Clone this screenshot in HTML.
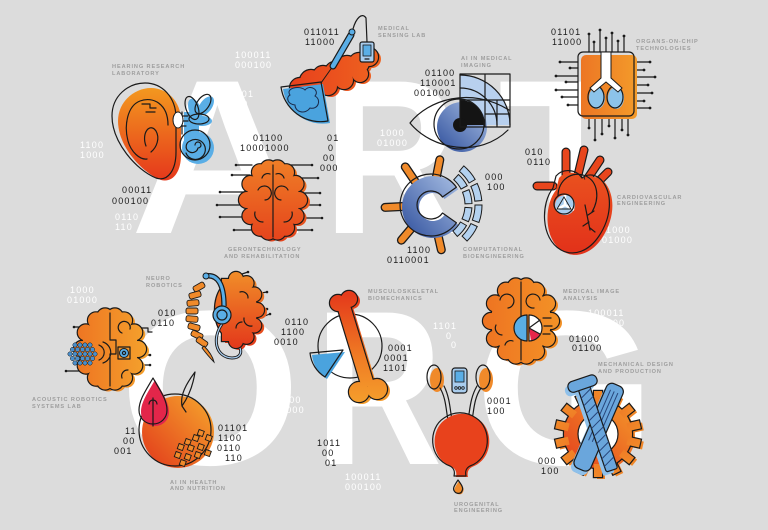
<!DOCTYPE html>
<html><head><meta charset="utf-8"><style>
html,body{margin:0;padding:0;background:#dcdcdc;overflow:hidden}
svg{display:block}
text{font-family:"Liberation Sans",sans-serif}
.b{font-size:9px;letter-spacing:1.2px;fill:#1a1a1a}
.w{font-size:9px;letter-spacing:1.2px;fill:#fff}
.l{font-size:5.6px;letter-spacing:.9px;fill:#9e9e9e;font-weight:bold}
.big{font-weight:bold;font-size:220px;fill:#fff}
.o{fill:none;stroke:#1a1a1a;stroke-width:1.2;stroke-linejoin:round;stroke-linecap:round}
.d{fill:#1a1a1a}
</style></head><body>
<svg xmlns="http://www.w3.org/2000/svg" width="768" height="530" viewBox="0 0 768 530">
<defs>
<linearGradient id="gEar" x1="0" y1="88" x2="0" y2="182" gradientUnits="userSpaceOnUse"><stop offset="0" stop-color="#f3981f"/><stop offset="1" stop-color="#e5361b"/></linearGradient>
<linearGradient id="gCloud" x1="295" y1="0" x2="378" y2="0" gradientUnits="userSpaceOnUse"><stop offset="0" stop-color="#e8421c"/><stop offset="1" stop-color="#ee6320"/></linearGradient>
<linearGradient id="gGer" x1="0" y1="162" x2="0" y2="240" gradientUnits="userSpaceOnUse"><stop offset="0" stop-color="#ef7d26"/><stop offset="1" stop-color="#e5441c"/></linearGradient>
<linearGradient id="gChip" x1="578" y1="0" x2="636" y2="0" gradientUnits="userSpaceOnUse"><stop offset="0" stop-color="#ec7424"/><stop offset="1" stop-color="#f39a2a"/></linearGradient>
<linearGradient id="gHeart" x1="0" y1="150" x2="0" y2="252" gradientUnits="userSpaceOnUse"><stop offset="0" stop-color="#ec5a20"/><stop offset="1" stop-color="#e2321a"/></linearGradient>
<linearGradient id="gBlue" x1="0" y1="1" x2="1" y2="0"><stop offset="0" stop-color="#2f4f9c"/><stop offset="1" stop-color="#a8bfe4"/></linearGradient>
<linearGradient id="gNeu" x1="0" y1="275" x2="0" y2="348" gradientUnits="userSpaceOnUse"><stop offset="0" stop-color="#f08a28"/><stop offset="1" stop-color="#e3381b"/></linearGradient>
<linearGradient id="gAc" x1="75" y1="0" x2="145" y2="0" gradientUnits="userSpaceOnUse"><stop offset="0" stop-color="#ee7422"/><stop offset="1" stop-color="#f4a02c"/></linearGradient>
<linearGradient id="gApple" x1="145" y1="460" x2="210" y2="400" gradientUnits="userSpaceOnUse"><stop offset="0" stop-color="#e3401c"/><stop offset="1" stop-color="#f5a22c"/></linearGradient>
<linearGradient id="gBone" x1="0" y1="295" x2="0" y2="405" gradientUnits="userSpaceOnUse"><stop offset="0" stop-color="#e43b1b"/><stop offset=".55" stop-color="#ef7a24"/><stop offset="1" stop-color="#f5a02c"/></linearGradient>
<linearGradient id="gMia" x1="485" y1="0" x2="560" y2="0" gradientUnits="userSpaceOnUse"><stop offset="0" stop-color="#ee7422"/><stop offset="1" stop-color="#f39226"/></linearGradient>
<linearGradient id="gGear" x1="560" y1="475" x2="640" y2="395" gradientUnits="userSpaceOnUse"><stop offset="0" stop-color="#e3381b"/><stop offset="1" stop-color="#f5a02c"/></linearGradient>

<g id="cloud"><circle cx="300" cy="88" r="10"/><circle cx="311" cy="81" r="11"/><circle cx="323" cy="76" r="10"/><circle cx="335" cy="72" r="10"/><circle cx="347" cy="67" r="11"/><circle cx="359" cy="63" r="10"/><circle cx="369" cy="57" r="9"/><circle cx="312" cy="93" r="8"/><circle cx="328" cy="86" r="9"/><circle cx="344" cy="80" r="9"/><circle cx="360" cy="74" r="8"/></g>
<g id="brGer"><ellipse cx="273" cy="200" rx="26" ry="32"/>
<circle cx="299" cy="200" r="8"/><circle cx="295.5" cy="216" r="8"/><circle cx="286" cy="227.7" r="8"/><circle cx="277.5" cy="231.5" r="8"/><circle cx="268.5" cy="231.5" r="8"/><circle cx="260" cy="227.7" r="8"/><circle cx="250.5" cy="216" r="8"/><circle cx="247" cy="200" r="8"/><circle cx="250.5" cy="184" r="8"/><circle cx="260" cy="172.3" r="8"/><circle cx="268.5" cy="168.5" r="8"/><circle cx="277.5" cy="168.5" r="8"/><circle cx="286" cy="172.3" r="8"/><circle cx="295.5" cy="184" r="8"/></g>
<g id="brAc"><ellipse cx="110" cy="349" rx="28" ry="33"/>
<circle cx="138" cy="349" r="8"/><circle cx="134.2" cy="365.5" r="8"/><circle cx="124" cy="377.6" r="8"/><circle cx="114.9" cy="381.5" r="8"/><circle cx="105.1" cy="381.5" r="8"/><circle cx="96" cy="377.6" r="8"/><circle cx="85.8" cy="365.5" r="8"/><circle cx="82" cy="349" r="8"/><circle cx="85.8" cy="332.5" r="8"/><circle cx="96" cy="320.4" r="8"/><circle cx="105.1" cy="316.5" r="8"/><circle cx="114.9" cy="316.5" r="8"/><circle cx="124" cy="320.4" r="8"/><circle cx="134.2" cy="332.5" r="8"/></g>
<g id="brMia"><ellipse cx="521" cy="321" rx="30" ry="35"/>
<circle cx="551" cy="321" r="8"/><circle cx="547" cy="338.5" r="8"/><circle cx="536" cy="351.3" r="8"/><circle cx="526.2" cy="355.5" r="8"/><circle cx="515.8" cy="355.5" r="8"/><circle cx="506" cy="351.3" r="8"/><circle cx="495" cy="338.5" r="8"/><circle cx="491" cy="321" r="8"/><circle cx="495" cy="303.5" r="8"/><circle cx="506" cy="290.7" r="8"/><circle cx="515.8" cy="286.5" r="8"/><circle cx="526.2" cy="286.5" r="8"/><circle cx="536" cy="290.7" r="8"/><circle cx="547" cy="303.5" r="8"/></g>
<g id="brNeu"><ellipse cx="236" cy="310" rx="21" ry="31"/><rect x="222" y="279" width="14" height="62"/>
<circle cx="236" cy="279" r="7"/><circle cx="246.5" cy="283.2" r="7"/><circle cx="254.2" cy="294.5" r="7"/><circle cx="257" cy="310" r="7"/><circle cx="254.2" cy="325.5" r="7"/><circle cx="246.5" cy="336.8" r="7"/><circle cx="236" cy="341" r="7"/></g>
<g id="bone"><circle cx="338" cy="303" r="8"/><circle cx="349" cy="299" r="8"/><path d="M337 306 L349 302 L374 384 L362 388 Z"/><circle cx="359" cy="392" r="10"/><circle cx="377" cy="389" r="10"/></g>
<g id="gear"><circle cx="598" cy="434" r="34"/>
<rect x="594" y="391" width="8" height="13"/>
<rect x="594" y="391" width="8" height="13" transform="rotate(25.71 598 434)"/>
<rect x="594" y="391" width="8" height="13" transform="rotate(51.43 598 434)"/>
<rect x="594" y="391" width="8" height="13" transform="rotate(77.14 598 434)"/>
<rect x="594" y="391" width="8" height="13" transform="rotate(102.86 598 434)"/>
<rect x="594" y="391" width="8" height="13" transform="rotate(128.57 598 434)"/>
<rect x="594" y="391" width="8" height="13" transform="rotate(154.29 598 434)"/>
<rect x="594" y="391" width="8" height="13" transform="rotate(180 598 434)"/>
<rect x="594" y="391" width="8" height="13" transform="rotate(205.71 598 434)"/>
<rect x="594" y="391" width="8" height="13" transform="rotate(231.43 598 434)"/>
<rect x="594" y="391" width="8" height="13" transform="rotate(257.14 598 434)"/>
<rect x="594" y="391" width="8" height="13" transform="rotate(282.86 598 434)"/>
<rect x="594" y="391" width="8" height="13" transform="rotate(308.57 598 434)"/>
<rect x="594" y="391" width="8" height="13" transform="rotate(334.29 598 434)"/>
</g>
<path id="seg1" d="M33.48 -5.90 L40.38 -7.12 A41 41 0 0 1 40.38 7.12 L33.48 5.90 A34 34 0 0 0 33.48 -5.90 Z"/>
<path id="seg2" d="M43.33 -7.64 L50.23 -8.86 A51 51 0 0 1 50.23 8.86 L43.33 7.64 A44 44 0 0 0 43.33 -7.64 Z"/>
</defs>

<rect width="768" height="530" fill="#dcdcdc"/>

<!-- big letters -->
<text class="big" transform="translate(130 233) scale(1.1 1)" x="0" y="0">A</text>
<text class="big" transform="translate(337 233) scale(.85 1)" x="-16" y="0">R</text>
<text class="big" x="498" y="233">T</text>
<text class="big" transform="translate(130 464) scale(1.06 1)" x="-10" y="0">O</text>
<text class="big" transform="translate(328 464) scale(.8 1)" x="-16" y="0">R</text>
<text class="big" transform="translate(485 464) scale(1.06 1)" x="-10" y="0">G</text>

<!-- white binary -->
<text class="w" x="235" y="58">100011</text><text class="w" x="235" y="68">000100</text>
<text class="w" x="230" y="97">1101</text><text class="w" x="236" y="107">00</text><text class="w" x="238" y="117">00</text><text class="w" x="240" y="127">00</text>
<text class="w" x="80" y="148">1100</text><text class="w" x="80" y="158">1000</text>
<text class="w" x="115" y="220">0110</text><text class="w" x="115" y="230">110</text>
<text class="w" x="380" y="136">1000</text><text class="w" x="377" y="146">01000</text>
<text class="w" x="606" y="233">1000</text><text class="w" x="602" y="243">01000</text>
<text class="w" x="70" y="293">1000</text><text class="w" x="67" y="303">01000</text>
<text class="w" x="283" y="403">000</text><text class="w" x="280" y="413">1000</text>
<text class="w" x="345" y="480">100011</text><text class="w" x="345" y="490">000100</text>
<text class="w" x="433" y="329">1101</text><text class="w" x="446" y="339">0</text><text class="w" x="451" y="348">0</text>
<text class="w" x="588" y="316">100011</text><text class="w" x="588" y="326">000100</text>

<!-- EAR -->
<path d="M151 88 C135 88 118 101 118 121 C118 146 141 172 161 180 C173 183 181 172 181 155 L181 121 C181 101 167 88 151 88Z" fill="url(#gEar)"/>
<path class="o" d="M145 83 C128 83 112 96 112 116 C112 142 136 170 156 178 C168 182 176 170 176 152 L176 118 C176 97 162 83 145 83Z"/>
<path class="o" d="M168 125 C168 104 153 96 140 101 C127 106 124 126 128 141 C131 152 140 160 147 159"/>
<path class="o" d="M146 146 C141 133 150 122 156 131 C160 138 157 147 151 152"/>
<path class="o" d="M142 104 h8 v4 h6 M146 112 h9"/>
<g fill="#5aaee6">
<ellipse cx="195" cy="110" rx="6" ry="12" transform="rotate(-20 195 110)"/>
<ellipse cx="206" cy="106" rx="6" ry="11" transform="rotate(35 206 106)"/>
<ellipse cx="202" cy="121" rx="10" ry="5"/>
<circle cx="198" cy="148" r="16"/>
<rect x="184" y="112" width="15" height="30"/>
</g>
<g class="o">
<ellipse cx="192" cy="108" rx="6" ry="12" transform="rotate(-20 192 108)"/>
<ellipse cx="203" cy="104" rx="6" ry="11" transform="rotate(35 203 104)"/>
<ellipse cx="199" cy="119" rx="10" ry="5"/>
<path d="M182 112 V134"/>
<circle cx="195" cy="145" r="15"/>
<path d="M195 145 A3 3 0 1 1 198 148 A6 6 0 1 1 190 141 A10 10 0 1 1 186 153"/>
<path d="M178 116 h10 M178 121 h10 M178 126 h8"/>
</g>
<ellipse cx="178" cy="120" rx="5" ry="8" fill="#fff" stroke="#1a1a1a" stroke-width="1"/>

<!-- MEDICAL SENSING -->
<use href="#cloud" fill="url(#gCloud)" transform="translate(3 2)"/>
<use href="#cloud" fill="#1a1a1a" stroke="#1a1a1a" stroke-width="2.4"/>
<use href="#cloud" fill="url(#gCloud)"/>
<path d="M323 84 L283 89 A40 40 0 0 0 330 123 Z" fill="#4aa3de"/>
<path class="o" d="M321 82 L281 87 A40 40 0 0 0 328 121 Z"/>
<path d="M290 95 C285 88 300 85 305 90 C310 84 320 90 315 96 C322 100 318 110 310 108 C305 115 295 112 295 105 C287 104 286 97 290 95Z" fill="none" stroke="#1a2a4a" stroke-width="1"/>
<path d="M321 83 L333 66" stroke="#1a1a1a" stroke-width="1"/>
<path d="M333 66 L351 35" stroke="#1a1a1a" stroke-width="7" stroke-linecap="round"/>
<path d="M333 66 L351 35" stroke="#5aaee6" stroke-width="4.6" stroke-linecap="round"/>
<circle cx="352" cy="32" r="3" fill="#5aaee6" stroke="#1a1a1a" stroke-width="1"/>
<path class="o" d="M353 29 C356 18 362 12 366 18 L367 42"/>
<rect x="360" y="42" width="14" height="20" rx="2" fill="#a9cdee" stroke="#1a1a1a" stroke-width="1.2"/>
<rect x="363" y="45" width="8" height="11" fill="#5aaee6" stroke="#1a1a1a" stroke-width=".8"/>
<path class="o" d="M365 59 h4"/>

<!-- EYE -->
<path d="M460 125 L460 75 A50 50 0 0 1 510 125 Z" fill="#b8d0ee"/>
<circle cx="462" cy="127" r="25" fill="url(#gBlue)"/>
<path d="M460 125 L460 100 A25 25 0 0 1 485 125 Z" fill="#141414"/>
<circle cx="460" cy="125" r="7" fill="#141414"/>
<path class="o" d="M410 123 C428 100 470 86 509 110 M410 123 C432 150 480 158 508 130"/>
<circle class="o" cx="459" cy="124" r="25"/>
<path class="o" d="M460 74 H510 V127 H460 Z M485 74 V127 M460 100 H510 M497 100 V127 M485 114 H510"/>
<path class="o" d="M460 88 A37 37 0 0 1 497 125 M460 75 A50 50 0 0 1 510 125"/>

<!-- CHIP -->
<g class="o">
<path d="M589 52V34 M594 52V42 M600 52V30 M606 52V38 M612 52V33 M618 52V41 M624 52V36"/>
<path d="M578 62H560 M578 68H570 M578 76H556 M578 82H566 M578 90H556 M578 97H562 M578 105H568"/>
<path d="M634 62H650 M634 70H644 M634 77H655 M634 85H648 M634 93H652 M634 101H644 M634 108H650"/>
<path d="M589 116V128 M595 116V140 M602 116V134 M609 116V126 M615 116V138 M622 116V130 M628 116V135"/>
</g>
<g class="d">
<circle cx="589" cy="34" r="1.4"/><circle cx="594" cy="42" r="1.4"/><circle cx="600" cy="30" r="1.4"/><circle cx="606" cy="38" r="1.4"/><circle cx="612" cy="33" r="1.4"/><circle cx="618" cy="41" r="1.4"/><circle cx="624" cy="36" r="1.4"/>
<circle cx="560" cy="62" r="1.4"/><circle cx="570" cy="68" r="1.4"/><circle cx="556" cy="76" r="1.4"/><circle cx="566" cy="82" r="1.4"/><circle cx="556" cy="90" r="1.4"/><circle cx="562" cy="97" r="1.4"/><circle cx="568" cy="105" r="1.4"/>
<circle cx="650" cy="62" r="1.4"/><circle cx="644" cy="70" r="1.4"/><circle cx="655" cy="77" r="1.4"/><circle cx="648" cy="85" r="1.4"/><circle cx="652" cy="93" r="1.4"/><circle cx="644" cy="101" r="1.4"/><circle cx="650" cy="108" r="1.4"/>
<circle cx="589" cy="128" r="1.4"/><circle cx="595" cy="140" r="1.4"/><circle cx="602" cy="134" r="1.4"/><circle cx="609" cy="126" r="1.4"/><circle cx="615" cy="138" r="1.4"/><circle cx="622" cy="130" r="1.4"/><circle cx="628" cy="135" r="1.4"/>
</g>
<rect x="581" y="55" width="56" height="64" rx="5" fill="url(#gChip)"/>
<rect class="o" x="578" y="52" width="56" height="64" rx="5"/>
<ellipse cx="597" cy="98" rx="8" ry="11" fill="#8cc3ea"/>
<ellipse cx="616" cy="98" rx="8" ry="11" fill="#8cc3ea"/>
<ellipse class="o" cx="596" cy="97" rx="8" ry="11"/>
<ellipse class="o" cx="615" cy="97" rx="8" ry="11"/>
<path d="M601 52 H611 V78 L622 88 L618 92 L606 82 L594 92 L590 88 L601 78 Z" fill="#fff" stroke="#1a1a1a" stroke-width="1"/>

<!-- GERONTECHNOLOGY BRAIN -->
<g class="o">
<path d="M236 165H252 M232 175H250 M220 192H245 M217 205H245 M220 217H245 M234 230H252"/>
<path d="M290 165H312 M295 178H318 M300 193H320 M300 205H320 M300 218H322 M290 230H312"/>
</g>
<g class="d"><circle cx="236" cy="165" r="1.3"/><circle cx="232" cy="175" r="1.3"/><circle cx="220" cy="192" r="1.3"/><circle cx="217" cy="205" r="1.3"/><circle cx="220" cy="217" r="1.3"/><circle cx="234" cy="230" r="1.3"/><circle cx="312" cy="165" r="1.3"/><circle cx="318" cy="178" r="1.3"/><circle cx="320" cy="193" r="1.3"/><circle cx="320" cy="205" r="1.3"/><circle cx="322" cy="218" r="1.3"/><circle cx="312" cy="230" r="1.3"/></g>
<use href="#brGer" fill="url(#gGer)" transform="translate(3 2)"/>
<use href="#brGer" fill="#1a1a1a" stroke="#1a1a1a" stroke-width="2.4"/>
<use href="#brGer" fill="url(#gGer)"/>
<path class="o" d="M273 165 V237 M258 190 A7 7 0 1 1 265 200 M288 190 A7 7 0 1 0 281 200 M255 212 a8 8 0 0 0 8 10 M292 212 a8 8 0 0 1 -8 10 M262 178 a6 6 0 0 1 8 -4 M284 178 a6 6 0 0 0 -8 -4"/>

<!-- C RING -->
<g stroke-linecap="round">
<path d="M436.3 177.5 L439.8 159.8 M415.3 181.8 L405.3 166.9 M403 206.5 L385.1 207.4 M413 226.4 L401.4 240.2 M437.3 232.3 L441.3 249.8" stroke="#1a1a1a" stroke-width="9"/>
<path d="M436.3 177.5 L439.8 159.8 M415.3 181.8 L405.3 166.9 M403 206.5 L385.1 207.4 M413 226.4 L401.4 240.2 M437.3 232.3 L441.3 249.8" stroke="#f08a2a" stroke-width="6.4"/>
</g>
<path d="M458.4 189.2 A31 31 0 1 0 458.4 224.8 L444.5 215 A14 14 0 1 1 444.5 199 Z" fill="url(#gBlue)"/>
<path class="o" d="M456.4 187.2 A31 31 0 1 0 456.4 222.8 L442.5 213 A14 14 0 1 1 442.5 197 Z"/>
<g fill="#b3d1ef" stroke="#1a1a1a" stroke-width="1">
<use href="#seg1" transform="translate(431 205) rotate(-38)"/>
<use href="#seg1" transform="translate(431 205) rotate(-12)"/>
<use href="#seg1" transform="translate(431 205) rotate(14)"/>
<use href="#seg1" transform="translate(431 205) rotate(40)"/>
<use href="#seg2" transform="translate(431 205) rotate(-40)"/>
<use href="#seg2" transform="translate(431 205) rotate(-15)"/>
<use href="#seg2" transform="translate(431 205) rotate(10)"/>
<use href="#seg2" transform="translate(431 205) rotate(35)"/>
</g>

<!-- HEART -->
<g stroke-linecap="round">
<path d="M566 178 V152 M578 175 L584 150 M588 178 L600 160 M594 186 L608 172 M553 186 H537" stroke="#1a1a1a" stroke-width="9"/>
<path d="M566 178 V152 M578 175 L584 150 M588 178 L600 160 M594 186 L608 172 M553 186 H537" stroke="#e8461c" stroke-width="6.6"/>
</g>
<path d="M556 190 C544 205 543 240 564 252 C577 259 592 253 602 238 C614 220 616 198 606 184 C600 176 591 175 585 180 C579 171 566 170 559 178 Z" fill="url(#gHeart)"/>
<path class="o" d="M553 188 C541 203 540 238 561 250 C574 257 589 251 599 236 C611 218 613 196 603 182 C597 174 588 173 582 178 C576 169 563 168 556 176 Z"/>
<path class="o" d="M558 196 C558 180 572 170 586 176 C598 182 600 198 592 212"/>
<circle cx="565" cy="205" r="10" fill="#a9cdee"/>
<path d="M565 205 L565 195 M565 205 L556 210 M565 205 L574 210" stroke="#fff" stroke-width="2.5"/>
<circle class="o" cx="564" cy="204" r="10"/>
<path d="M564 197 L571 209 L557 209 Z" fill="none" stroke="#1a1a1a" stroke-width=".9"/>
<path class="o" d="M585 205 L590 230 M588 215 L594 211 M589 222 L583 226 M590 228 L595 232" stroke-width="1"/>

<!-- NEURO ROBOTICS -->
<g fill="#f08a2a" stroke="#1a1a1a" stroke-width=".9">
<rect x="193" y="284" width="12" height="6" rx="2" transform="rotate(-30 199 287)"/>
<rect x="189" y="292" width="12" height="6" rx="2" transform="rotate(-15 195 295)"/>
<rect x="187" y="300" width="12" height="6" rx="2" transform="rotate(-5 193 303)"/>
<rect x="186" y="308" width="12" height="6" rx="2"/>
<rect x="186" y="316" width="12" height="6" rx="2" transform="rotate(5 192 319)"/>
<rect x="188" y="324" width="12" height="6" rx="2" transform="rotate(15 194 327)"/>
<rect x="191" y="332" width="12" height="6" rx="2" transform="rotate(25 197 335)"/>
<rect x="196" y="339" width="12" height="6" rx="2" transform="rotate(35 202 342)"/>
<path d="M204 346 C210 352 213 358 214 362 C210 358 205 352 202 348 Z"/>
</g>
<g class="o"><path d="M233 277 L248 272 M242 286 L250 286 M250 295 L267 292 M258 309 L267 309 M262 317 L270 314"/></g>
<g class="d"><circle cx="248" cy="272" r="1.3"/><circle cx="250" cy="286" r="1.3"/><circle cx="267" cy="292" r="1.3"/><circle cx="267" cy="309" r="1.3"/><circle cx="270" cy="314" r="1.3"/></g>
<use href="#brNeu" fill="url(#gNeu)" transform="translate(3 2)"/>
<use href="#brNeu" fill="#1a1a1a" stroke="#1a1a1a" stroke-width="2.4"/>
<use href="#brNeu" fill="url(#gNeu)"/>
<path class="o" d="M240 292 a6 6 0 0 1 8 6 M244 318 a7 7 0 0 0 8 8 M236 328 a6 6 0 0 1 6 -6"/>
<path d="M206 276 C218 274 224 285 224 306" fill="none" stroke="#1a1a1a" stroke-width="5.4"/>
<path d="M206 276 C218 274 224 285 224 306" fill="none" stroke="#5aaee6" stroke-width="3"/>
<circle cx="206" cy="276" r="3" fill="#5aaee6" stroke="#1a1a1a" stroke-width="1"/>
<path d="M222 324 C212 338 215 357 232 358 C240 358 242 353 240 348" fill="none" stroke="#1a1a1a" stroke-width="3"/>
<path d="M222 324 C212 338 215 357 232 358 C240 358 242 353 240 348" fill="none" stroke="#a9cdee" stroke-width="1.2"/>
<circle cx="222" cy="315" r="9" fill="#5aaee6" stroke="#1a1a1a" stroke-width="1.2"/>
<circle class="o" cx="222" cy="315" r="5"/>

<!-- ACOUSTIC ROBOTICS -->
<g class="o"><path d="M74 327 H84 M66 371 H80 M138 328 H148 V332 H152 M138 355 H150 M138 365 H150"/></g>
<g class="d"><circle cx="74" cy="327" r="1.3"/><circle cx="66" cy="371" r="1.3"/><circle cx="150" cy="355" r="1.3"/><circle cx="150" cy="365" r="1.3"/></g>
<use href="#brAc" fill="url(#gAc)" transform="translate(3 2)"/>
<use href="#brAc" fill="#1a1a1a" stroke="#1a1a1a" stroke-width="2.4"/>
<use href="#brAc" fill="url(#gAc)"/>
<path class="o" d="M110 313 V340 H116 V354 H110 V386 M122 333 a6 6 0 1 1 8 -4 M122 378 a6 6 0 0 1 6 -8 M99 345 A8 8 0 0 1 99 360 M103 342 A11 11 0 0 1 103 363"/>
<rect class="o" x="118" y="347" width="12" height="12"/>
<circle cx="124" cy="353" r="4.5" fill="#5aaee6" stroke="#1a1a1a" stroke-width="1"/>
<circle class="o" cx="124" cy="353" r="1.6" stroke-width=".8"/>
<g fill="#4a8fcc" stroke="#1a1a1a" stroke-width=".5">
<circle cx="75" cy="345" r="2.2"/><circle cx="80" cy="345" r="2.2"/><circle cx="85" cy="345" r="2.2"/><circle cx="90" cy="345" r="2.2"/>
<circle cx="72.5" cy="349.5" r="2.2"/><circle cx="77.5" cy="349.5" r="2.2"/><circle cx="82.5" cy="349.5" r="2.2"/><circle cx="87.5" cy="349.5" r="2.2"/><circle cx="92.5" cy="349.5" r="2.2"/>
<circle cx="70" cy="354" r="2.2"/><circle cx="75" cy="354" r="2.2"/><circle cx="80" cy="354" r="2.2"/><circle cx="85" cy="354" r="2.2"/><circle cx="90" cy="354" r="2.2"/><circle cx="95" cy="354" r="2.2"/>
<circle cx="72.5" cy="358.5" r="2.2"/><circle cx="77.5" cy="358.5" r="2.2"/><circle cx="82.5" cy="358.5" r="2.2"/><circle cx="87.5" cy="358.5" r="2.2"/><circle cx="92.5" cy="358.5" r="2.2"/>
<circle cx="75" cy="363" r="2.2"/><circle cx="80" cy="363" r="2.2"/><circle cx="85" cy="363" r="2.2"/><circle cx="90" cy="363" r="2.2"/>
</g>

<!-- AI HEALTH NUTRITION -->
<circle cx="178" cy="432" r="36" fill="url(#gApple)"/>
<circle class="o" cx="175" cy="430" r="36"/>
<path class="o" d="M182 406 C180 395 186 384 195 372 C193 386 189 396 182 406 Z M182 406 L186 412"/>
<path d="M155 380 C148 392 141 402 141 412 C141 420 147 426 155 426 C163 426 169 420 169 412 C169 402 162 392 155 380 Z" fill="#e3264a"/>
<path class="o" d="M153 378 C146 390 139 400 139 410 C139 418 145 424 153 424 C161 424 167 418 167 410 C167 400 160 390 153 378 Z"/>
<path class="o" d="M153 398 V426 M149 404 A4 4 0 0 1 157 404"/>
<g fill="#f08a2a" stroke="#1a1a1a" stroke-width=".9">
<rect x="198" y="430" width="5.5" height="5.5" transform="rotate(20 200 433)"/>
<rect x="206" y="435" width="5.5" height="5.5" transform="rotate(20 208 438)"/>
<rect x="185" y="439" width="5.5" height="5.5" transform="rotate(20 187 442)"/>
<rect x="193" y="435" width="5.5" height="5.5" transform="rotate(20 195 438)"/>
<rect x="178" y="444" width="5.5" height="5.5" transform="rotate(20 180 447)"/>
<rect x="188" y="445" width="5.5" height="5.5" transform="rotate(20 190 448)"/>
<rect x="198" y="444" width="5.5" height="5.5" transform="rotate(20 200 447)"/>
<rect x="175" y="452" width="5.5" height="5.5" transform="rotate(20 177 455)"/>
<rect x="185" y="454" width="5.5" height="5.5" transform="rotate(20 187 457)"/>
<rect x="195" y="452" width="5.5" height="5.5" transform="rotate(20 197 455)"/>
<rect x="205" y="450" width="5.5" height="5.5" transform="rotate(20 207 453)"/>
<rect x="180" y="460" width="5.5" height="5.5" transform="rotate(20 182 463)"/>
</g>

<!-- MUSCULOSKELETAL -->
<circle class="o" cx="350" cy="346" r="32"/>
<use href="#bone" fill="url(#gBone)" transform="translate(3 2)"/>
<use href="#bone" fill="#1a1a1a" stroke="#1a1a1a" stroke-width="2.4"/>
<use href="#bone" fill="url(#gBone)"/>
<path d="M345 352 L312 355 A32 32 0 0 0 327 379 Z" fill="#4aa3de"/>
<path class="o" d="M343 350 L310 353 A32 32 0 0 0 325 377 Z"/>

<!-- MEDICAL IMAGE ANALYSIS -->
<use href="#brMia" fill="url(#gMia)" transform="translate(3 2)"/>
<use href="#brMia" fill="#1a1a1a" stroke="#1a1a1a" stroke-width="2.4"/>
<use href="#brMia" fill="url(#gMia)"/>
<path class="o" d="M521 282 V360 M500 300 a7 7 0 1 1 8 8 M496 325 a7 7 0 0 0 6 10 M505 345 a6 6 0 0 1 8 -4 M540 300 a7 7 0 1 0 -6 8"/>
<path d="M527 315 A13 13 0 0 0 527 341 Z" fill="#5aaee6"/>
<path d="M529 315 A13 13 0 0 1 529 341 Z" fill="#fff"/>
<path d="M529 328 L540 334 A13 13 0 0 1 531 341 Z" fill="#e8264a"/>
<path class="o" d="M527 315 A13 13 0 0 0 527 341 Z M529 315 A13 13 0 0 1 529 341 Z M529 328 L540 320 M529 328 L540 334 M543 318 H551 M544 326 H552 M543 334 H550"/>

<!-- UROGENITAL -->
<ellipse cx="437" cy="380" rx="7" ry="12" fill="#f08a2a"/>
<ellipse cx="486" cy="380" rx="7" ry="12" fill="#f08a2a"/>
<ellipse class="o" cx="434" cy="377" rx="7" ry="12"/>
<ellipse class="o" cx="483" cy="377" rx="7" ry="12"/>
<path class="o" d="M440 388 C446 398 446 410 448 420 M444 386 C450 398 450 410 452 420 M481 388 C474 398 474 410 472 420 M477 386 C470 398 470 410 468 420"/>
<rect x="452" y="368" width="15" height="25" rx="3" fill="#a9cdee" stroke="#1a1a1a" stroke-width="1.2"/>
<rect x="455" y="371" width="9" height="11" fill="#5aaee6" stroke="#1a1a1a" stroke-width=".8"/>
<g fill="none" stroke="#1a1a1a" stroke-width=".8"><circle cx="456" cy="388" r="1.3"/><circle cx="459.5" cy="388" r="1.3"/><circle cx="463" cy="388" r="1.3"/></g>
<path d="M446 419 C430 429 430 459 452 467 C456 469 457 473 456 477 L468 477 C467 473 468 469 472 467 C494 459 494 429 478 419 C468 412 456 412 446 419 Z" fill="#e8421c"/>
<path class="o" d="M444 418 C428 428 428 458 450 466 C454 468 455 472 454 476 L466 476 C465 472 466 468 470 466 C492 458 492 428 476 418 C466 411 454 411 444 418 Z"/>
<path d="M459 481 C455 487 453 490 456 493 C458 495 462 495 463 492 C465 489 462 485 459 481Z" fill="#f08a2a"/>
<path class="o" d="M458 480 C454 486 452 489 455 492 C457 494 461 494 462 491 C464 488 461 484 458 480Z"/>

<!-- GEAR & TOOLS -->
<use href="#gear" fill="url(#gGear)" transform="translate(3 2)"/>
<use href="#gear" fill="#1a1a1a" stroke="#1a1a1a" stroke-width="2.4"/>
<use href="#gear" fill="url(#gGear)"/>
<circle cx="598" cy="434" r="20" fill="#fff" stroke="#1a1a1a" stroke-width="1.2"/>
<g transform="translate(580 389) rotate(-18.8)" fill="#8ec0ea">
<rect x="-6" y="0" width="12" height="90" rx="2"/><rect x="-15" y="-7" width="30" height="11" rx="5"/>
</g>
<g transform="translate(614 389) rotate(23.5)" fill="#8ec0ea"><rect x="-9" y="0" width="18" height="92" rx="6"/></g>
<g transform="translate(617 385) rotate(23.5)">
<rect x="-9" y="0" width="18" height="92" rx="6" fill="#6aa6dc" stroke="#1a1a1a" stroke-width="1.2"/>
<path d="M-4 7 V62 M0 7 V62 M4 7 V62" stroke="#27457a" stroke-width="1"/>
</g>
<g transform="translate(583 385) rotate(-18.8)">
<rect x="-6" y="0" width="12" height="90" rx="2" fill="#6aa6dc" stroke="#1a1a1a" stroke-width="1.2"/>
<path d="M-6 12 L6 6 M-6 20 L6 14 M-6 28 L6 22 M-6 36 L6 30 M-6 44 L6 38 M-6 52 L6 46 M-6 60 L6 54 M-6 68 L6 62 M-6 76 L6 70 M-6 84 L6 78" stroke="#27457a" stroke-width="1"/>
<rect x="-15" y="-7" width="30" height="11" rx="5" fill="#6aa6dc" stroke="#1a1a1a" stroke-width="1.2"/>
</g>

<!-- black binary -->
<text class="b" x="304" y="35">011011</text><text class="b" x="305" y="45">11000</text>
<text class="b" x="551" y="35">01101</text><text class="b" x="552" y="45">11000</text>
<text class="b" x="425" y="76">01100</text><text class="b" x="420" y="86">110001</text><text class="b" x="414" y="96">001000</text>
<text class="b" x="253" y="141">01100</text><text class="b" x="240" y="151">10001000</text>
<text class="b" x="327" y="141">01</text><text class="b" x="328" y="151">0</text><text class="b" x="323" y="161">00</text><text class="b" x="320" y="171">000</text>
<text class="b" x="122" y="193">00011</text><text class="b" x="112" y="204">000100</text>
<text class="b" x="525" y="155">010</text><text class="b" x="527" y="165">0110</text>
<text class="b" x="485" y="180">000</text><text class="b" x="487" y="190">100</text>
<text class="b" x="407" y="253">1100</text><text class="b" x="387" y="263">0110001</text>
<text class="b" x="158" y="316">010</text><text class="b" x="151" y="326">0110</text>
<text class="b" x="285" y="325">0110</text><text class="b" x="281" y="335">1100</text><text class="b" x="274" y="345">0010</text>
<text class="b" x="388" y="351">0001</text><text class="b" x="384" y="361">0001</text><text class="b" x="383" y="371">1101</text>
<text class="b" x="569" y="342">01000</text><text class="b" x="572" y="351">01100</text>
<text class="b" x="487" y="404">0001</text><text class="b" x="487" y="414">100</text>
<text class="b" x="125" y="434">11</text><text class="b" x="123" y="444">00</text><text class="b" x="114" y="454">001</text>
<text class="b" x="218" y="431">01101</text><text class="b" x="218" y="441">1100</text><text class="b" x="217" y="451">0110</text><text class="b" x="225" y="461">110</text>
<text class="b" x="317" y="446">1011</text><text class="b" x="322" y="456">00</text><text class="b" x="325" y="466">01</text>
<text class="b" x="538" y="464">000</text><text class="b" x="541" y="474">100</text>

<!-- labels -->
<text class="l" x="112" y="68">HEARING RESEARCH</text><text class="l" x="112" y="75">LABORATORY</text>
<text class="l" x="378" y="30">MEDICAL</text><text class="l" x="378" y="37">SENSING LAB</text>
<text class="l" x="461" y="60">AI IN MEDICAL</text><text class="l" x="461" y="67">IMAGING</text>
<text class="l" x="636" y="43">ORGANS-ON-CHIP</text><text class="l" x="636" y="50">TECHNOLOGIES</text>
<text class="l" x="228" y="251">GERONTECHNOLOGY</text><text class="l" x="224" y="258">AND REHABILITATION</text>
<text class="l" x="463" y="251">COMPUTATIONAL</text><text class="l" x="463" y="258">BIOENGINEERING</text>
<text class="l" x="617" y="199">CARDIOVASCULAR</text><text class="l" x="617" y="205">ENGINEERING</text>
<text class="l" x="146" y="280">NEURO</text><text class="l" x="146" y="287">ROBOTICS</text>
<text class="l" x="32" y="401">ACOUSTIC ROBOTICS</text><text class="l" x="32" y="408">SYSTEMS LAB</text>
<text class="l" x="170" y="484">AI IN HEALTH</text><text class="l" x="170" y="490">AND NUTRITION</text>
<text class="l" x="368" y="293">MUSCULOSKELETAL</text><text class="l" x="368" y="300">BIOMECHANICS</text>
<text class="l" x="563" y="293">MEDICAL IMAGE</text><text class="l" x="563" y="300">ANALYSIS</text>
<text class="l" x="598" y="366">MECHANICAL DESIGN</text><text class="l" x="598" y="373">AND PRODUCTION</text>
<text class="l" x="454" y="506">UROGENITAL</text><text class="l" x="454" y="512">ENGINEERING</text>
</svg>
</body></html>
